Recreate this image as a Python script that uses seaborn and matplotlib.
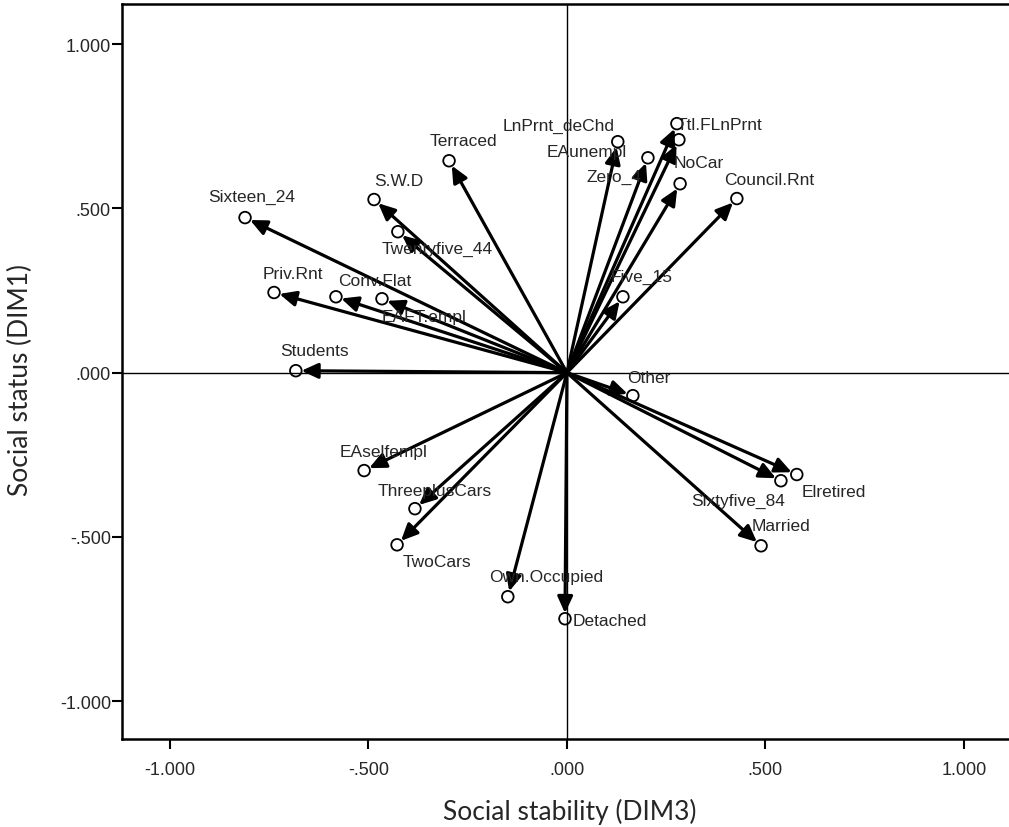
import numpy as np
import pandas as pd
import matplotlib
matplotlib.use("Agg")
import matplotlib.pyplot as plt
import seaborn as sns

# Component loadings
labels = ["Sixteen_24", "Terraced", "S.W.D", "Twentyfive_44", "Priv.Rnt",
          "Conv.Flat", "EAFT.empl", "Students", "EAunempl", "LnPrnt_deChd",
          "Ttl.FLnPrnt", "Zero_4", "NoCar", "Council.Rnt", "Five_15",
          "Other", "Elretired", "Sixtyfive_84", "Married", "EAselfempl",
          "ThreeplusCars", "TwoCars", "Own.Occupied", "Detached"]
dim3 = [-0.811, -0.297, -0.486, -0.426, -0.738,
        -0.582, -0.466, -0.683, 0.128, 0.277,
        0.282, 0.204, 0.285, 0.428, 0.141,
        0.166, 0.579, 0.539, 0.489, -0.511,
        -0.383, -0.428, -0.149, -0.005]
dim1 = [0.472, 0.645, 0.527, 0.429, 0.244,
        0.231, 0.225, 0.006, 0.703, 0.758,
        0.709, 0.654, 0.575, 0.530, 0.231,
        -0.070, -0.310, -0.329, -0.527, -0.298,
        -0.414, -0.524, -0.682, -0.749]
# label offsets (pixels) from each point
lab_dx = [7, 14, 25, 39, 19, 39, 42, 19, -31, -62, 41, -34, 19, 32, 19,
          16, 37, -43, 20, 19, 20, 40, 38, 8]
lab_dy = [21, 20, 19, -17, 19, 16, -18, 20, -10, -2, 15, -19, 21, 19, 20,
          18, -17, -20, 20, 19, 18, -17, 20, -2]
lab_ha = ["center"] * 24
lab_ha[9] = "right"
lab_ha[23] = "left"

df = pd.DataFrame({"label": labels, "DIM3": dim3, "DIM1": dim1})

sns.set_style("white")
plt.rcParams["font.family"] = ["Liberation Sans", "DejaVu Sans"]

fig = plt.figure(figsize=(10.09, 8.28), dpi=100)
ax = fig.add_axes([0.1209, 0.1063, 0.882, 0.888])

ax.axhline(0, color="black", lw=1.0, zorder=1)
ax.axvline(0, color="black", lw=1.0, zorder=1)

for i, row in df.iterrows():
    ax.annotate("", xy=(row.DIM3, row.DIM1), xytext=(0, 0),
                arrowprops=dict(arrowstyle="-|>,head_length=0.5,head_width=0.23",
                                mutation_scale=20, lw=2.3,
                                color="black", shrinkA=0, shrinkB=4),
                zorder=3)
    ax.annotate(row.label, xy=(row.DIM3, row.DIM1),
                xytext=(lab_dx[i], lab_dy[i]), textcoords="offset pixels",
                ha=lab_ha[i], va="center", fontsize=12.5, zorder=5)

sns.scatterplot(data=df, x="DIM3", y="DIM1", ax=ax, s=70, marker="o",
                facecolor="none", edgecolor="black", linewidth=1.3, zorder=4)

ax.set_xlim(-1.121, 1.121)
ax.set_ylim(-1.115, 1.123)
ticks = [-1.0, -0.5, 0.0, 0.5, 1.0]
tick_text = ["-1.000", "-.500", ".000", ".500", "1.000"]
ax.set_xticks(ticks)
ax.set_xticklabels(tick_text)
ax.set_yticks(ticks)
ax.set_yticklabels(tick_text)
ax.tick_params(axis="both", direction="out", length=7, width=1.5,
               labelsize=13, color="black", bottom=True, left=True)
ax.tick_params(axis="x", pad=9)
ax.tick_params(axis="y", pad=1)
for s in ax.spines.values():
    s.set_color("black")
    s.set_linewidth(1.8)

ax.set_xlabel("Social stability (DIM3)", fontsize=19, family=["Lato", "DejaVu Sans"])
ax.set_ylabel("Social status (DIM1)", fontsize=19, family=["Lato", "DejaVu Sans"])
ax.xaxis.set_label_coords(0.503, -0.080)
ax.yaxis.set_label_coords(-0.100, 0.49)

fig.savefig("out.png", dpi=100)
